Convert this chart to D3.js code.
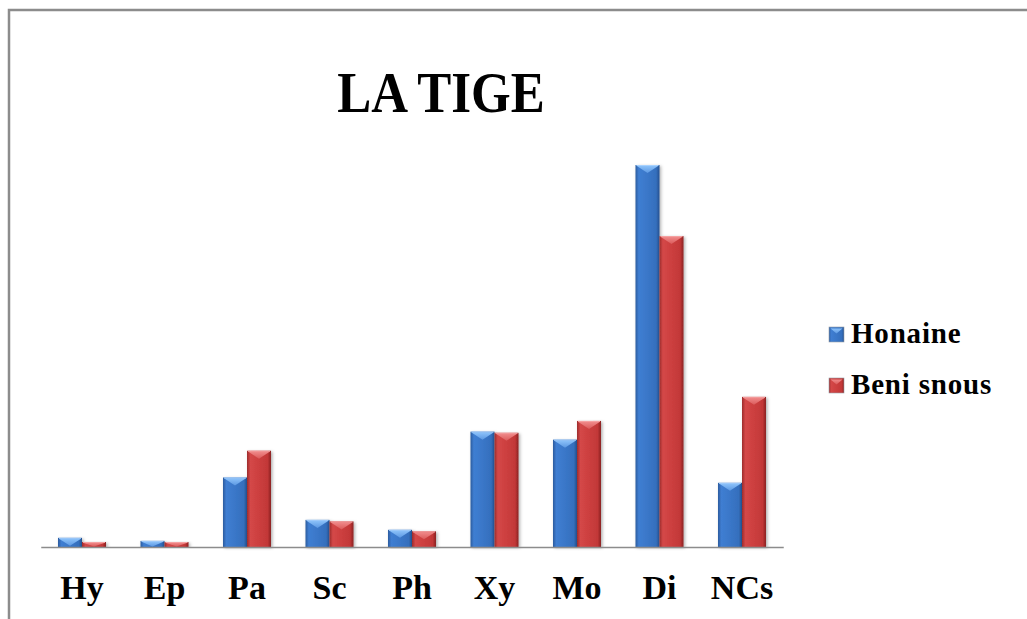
<!DOCTYPE html>
<html>
<head>
<meta charset="utf-8">
<script src="https://cdn.jsdelivr.net/npm/d3@7"></script>
<style>
  html, body { margin: 0; padding: 0; background: #fff; overflow: hidden; }
  svg { display: block; }
</style>
</head>
<body>
<svg id="chart" width="1027" height="619"></svg>
<script>
// Tissue categories of the stem and the two stations compared
const categories = ["Hy", "Ep", "Pa", "Sc", "Ph", "Xy", "Mo", "Di", "NCs"];
const seriesNames = ["Honaine", "Beni snous"];
const honaine   = [2.4, 1.6, 18.2, 7.1, 4.5, 30.2, 28.1, 100, 16.8];
const beniSnous = [1.3, 1.3, 25.2, 6.7, 4.1, 29.9, 33.0, 81.4, 39.3];
const titleText = "LA TIGE";

const svg = d3.select("#chart");
const W = 1027, H = 619;
const serif = "'Liberation Serif', 'Times New Roman', serif";

// Chart frame (top and left edges are inside the view)
svg.append("path")
  .attr("d", `M9,${H} L9,10 L${W},10`)
  .attr("fill", "none")
  .attr("stroke", "#8c8c8c")
  .attr("stroke-width", 2.5);

const defs = svg.append("defs");

// Soft shadow under bars
const shadow = defs.append("filter").attr("id", "barShadow")
  .attr("x", "-30%").attr("y", "-10%").attr("width", "160%").attr("height", "120%");
shadow.append("feDropShadow")
  .attr("dx", 1.5).attr("dy", 1).attr("stdDeviation", 1.4)
  .attr("flood-color", "#000").attr("flood-opacity", 0.3);

// Body and bevel gradients for each series
const palettes = [
  { id: "blue", body: ["#2c5c9e", "#3f7ed2", "#3a77c8", "#356fbd", "#24508f"],
    bevel: ["#8cc2fa", "#5c98e2"] },
  { id: "red", body: ["#9c2b2b", "#d44848", "#cc3f3f", "#c23838", "#8a2222"],
    bevel: ["#f08a8a", "#da5a5a"] }
];
palettes.forEach(p => {
  const g = defs.append("linearGradient").attr("id", "body-" + p.id)
    .attr("x1", "0%").attr("x2", "100%").attr("y1", "0%").attr("y2", "0%");
  [0, 0.14, 0.5, 0.86, 1].forEach((o, i) =>
    g.append("stop").attr("offset", o).attr("stop-color", p.body[i]));
  const b = defs.append("linearGradient").attr("id", "bevel-" + p.id)
    .attr("x1", "0%").attr("x2", "0%").attr("y1", "0%").attr("y2", "100%");
  b.append("stop").attr("offset", 0).attr("stop-color", p.bevel[0]);
  b.append("stop").attr("offset", 1).attr("stop-color", p.bevel[1]);
});

// Scales
const baseY = 547;
const x0 = d3.scaleBand()
  .domain(categories)
  .range([40.75, 783.25])
  .paddingInner(0.418)
  .paddingOuter(0.209);
const x1 = d3.scaleBand()
  .domain(seriesNames)
  .range([0, x0.bandwidth()]);
const y = d3.scaleLinear()
  .domain([0, d3.max(honaine.concat(beniSnous))])
  .range([baseY, baseY - 382]);

// Title
svg.append("text")
  .attr("x", 441).attr("y", 112)
  .attr("text-anchor", "middle")
  .attr("font-family", serif)
  .attr("font-weight", "bold")
  .attr("font-size", 51)
  .attr("transform", "translate(0,112) scale(1,1.1) translate(0,-112)")
  .text(titleText);

// Bars
const rows = categories.map((c, i) => ({
  cat: c,
  vals: [honaine[i], beniSnous[i]]
}));

const groups = svg.append("g").selectAll("g")
  .data(rows).join("g")
  .attr("transform", d => `translate(${x0(d.cat)},0)`);

const bars = groups.selectAll("g.bar")
  .data(d => d.vals.map((v, k) => ({ v, k, name: seriesNames[k] })))
  .join("g").attr("class", "bar");

bars.append("rect")
  .attr("x", d => x1(d.name))
  .attr("y", d => y(d.v))
  .attr("width", x1.bandwidth())
  .attr("height", d => baseY - y(d.v))
  .attr("fill", d => `url(#body-${palettes[d.k].id})`)
  .attr("filter", "url(#barShadow)");

// Beveled top face
bars.append("path")
  .attr("d", d => {
    const xa = x1(d.name), w = x1.bandwidth(), top = y(d.v);
    const h = Math.min(8, (baseY - top) * 0.9);
    return `M${xa + 1},${top + 0.8} L${xa + w - 1},${top + 0.8} L${xa + w / 2},${top + h} Z`;
  })
  .attr("fill", d => `url(#bevel-${palettes[d.k].id})`);

// Light top edge
bars.append("line")
  .attr("x1", d => x1(d.name) + 1)
  .attr("x2", d => x1(d.name) + x1.bandwidth() - 1)
  .attr("y1", d => y(d.v) + 0.5)
  .attr("y2", d => y(d.v) + 0.5)
  .attr("stroke", d => d.k === 0 ? "#a8d2ff" : "#f7a5a5")
  .attr("stroke-width", 1);

// Category axis
const axis = svg.append("g")
  .attr("transform", `translate(0,${baseY})`)
  .call(d3.axisBottom(x0).tickSize(0).tickSizeOuter(0));
axis.select(".domain").attr("stroke", "#8c8c8c").attr("stroke-width", 1.3);
axis.selectAll(".tick text")
  .attr("font-family", serif)
  .attr("font-weight", "bold")
  .attr("font-size", 34)
  .attr("fill", "#000")
  .attr("dy", "0")
  .attr("y", 52);

// Legend
const legend = svg.append("g");
const legendItems = legend.selectAll("g")
  .data(seriesNames).join("g")
  .attr("transform", (d, i) => `translate(829,${327 + i * 51})`);
legendItems.append("rect")
  .attr("width", 15).attr("height", 15)
  .attr("fill", (d, i) => `url(#body-${palettes[i].id})`)
  .attr("stroke", "#9aa0a8").attr("stroke-width", 0.6);
legendItems.append("path")
  .attr("d", "M1.5,1.5 L13.5,1.5 L7.5,6.5 Z")
  .attr("fill", (d, i) => `url(#bevel-${palettes[i].id})`);
legendItems.append("text")
  .attr("x", 22).attr("y", 16)
  .attr("font-family", serif)
  .attr("font-weight", "bold")
  .attr("font-size", 29)
  .attr("letter-spacing", 0.8)
  .attr("fill", "#000")
  .text(d => d);
</script>
</body>
</html>
